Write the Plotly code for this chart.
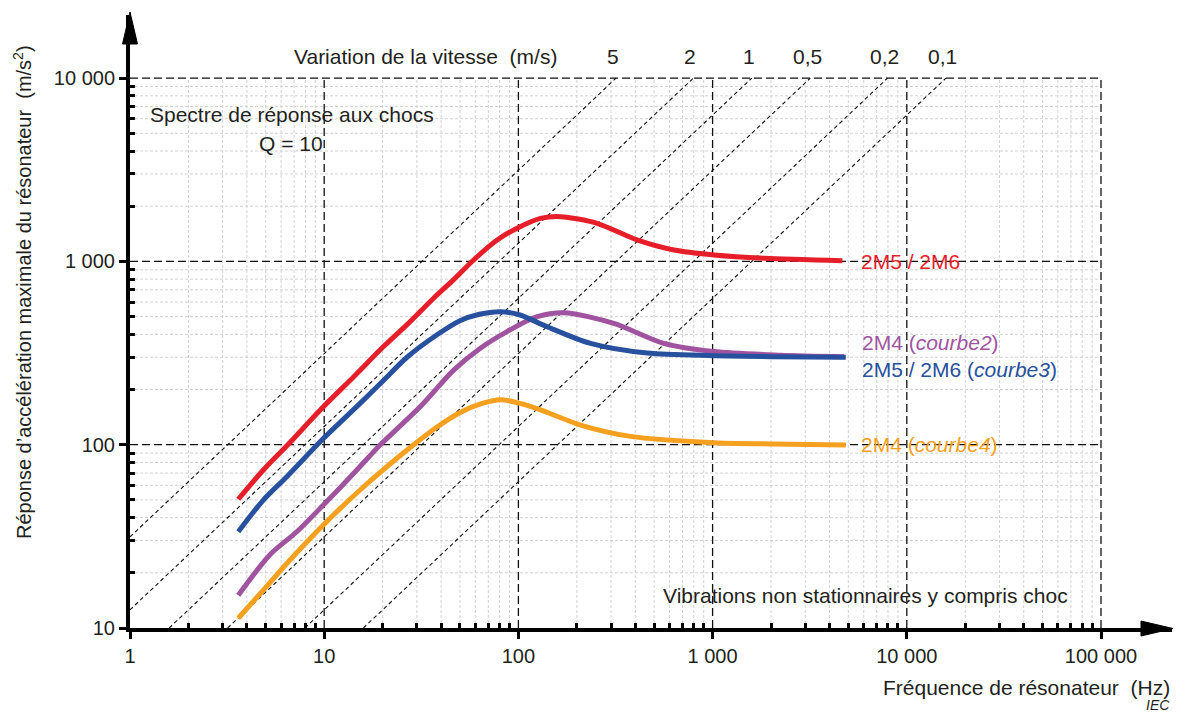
import math
import plotly.graph_objects as go

# ---------------- data ----------------
freq_red = [3.61, 4.86, 6.5, 9.9, 14.2, 20.2, 26.7, 36.6, 46.4, 58.8, 77.7, 102, 130, 165, 254, 408, 632, 1016, 1842, 4660]
acc_red = [50.4, 72.8, 100, 161, 235, 343, 452, 630, 795, 1018, 1309, 1546, 1717, 1754, 1614, 1309, 1153, 1084, 1040, 1009]

freq_blue = [3.61, 4.86, 6.42, 9.9, 15.3, 20.0, 26.7, 38.1, 50.0, 63, 80.8, 102, 140.5, 235, 460, 1016, 2000, 4850]
acc_blue = [33.5, 49.9, 66.9, 108, 168, 222, 300, 398, 475, 515, 532, 510, 440, 357, 316, 306, 302, 300]

freq_purple = [3.61, 5.27, 7.23, 9.9, 14.2, 19.4, 31.2, 46.4, 63.7, 87.4, 125, 171, 310, 561, 1016, 2243, 4750]
acc_purple = [15.1, 25.2, 33.5, 46.9, 69.8, 99.6, 161, 255, 336, 414, 499, 525, 459, 357, 322, 308, 302]

freq_orange = [3.61, 4.86, 6.42, 9.9, 15.3, 26.7, 38.1, 50.2, 65, 80.8, 102, 130, 209, 378, 1016, 2000, 4850]
acc_orange = [11.3, 16.1, 22.5, 36.5, 56.6, 93.5, 125, 150, 168, 176, 168, 155, 128, 111, 102.5, 101, 99.6]

velocities = [5, 2, 1, 0.5, 0.2, 0.1]
velocity_labels = ["5", "2", "1", "0,5", "0,2", "0,1"]

x_major = [1, 10, 100, 1000, 10000, 100000]
x_major_text = ["1", "10", "100", "1 000", "10 000", "100 000"]
y_major = [10, 100, 1000, 10000]
y_major_text = ["10", "100", "1 000", "10 000"]
mantissas = [2, 3, 4, 5, 6, 7, 8, 9]

# ---------------- layout geometry ----------------
W, H = 1180, 713
ML, MR, MT, MB = 130, 8, 15, 85
PW, PH = W - ML - MR, H - MT - MB
XDEC, YDEC = 194.2, 183.3
x_range = [0, PW / XDEC]
y_range = [1, 1 + PH / YDEC]
XMIN, XMAX = x_major[0], x_major[-1]
YMIN, YMAX = y_major[0], y_major[-1]

def px2paper(px, py):
    return (px - ML) / PW, (H - MB - py) / PH

x_minor = [m * d for d in x_major[:-1] for m in mantissas]
y_minor = [m * d for d in y_major[:-1] for m in mantissas]

FONT = "Liberation Sans, Arial, sans-serif"
TXT = "#231f20"

fig = go.Figure()

# minor grid
gx, gy = [], []
for v in x_minor:
    gx += [v, v, None]; gy += [YMIN, YMAX, None]
for v in y_minor:
    gx += [XMIN, XMAX, None]; gy += [v, v, None]
fig.add_trace(go.Scatter(x=gx, y=gy, mode="lines",
                         line=dict(color="#d2d2d2", width=1, dash="3px,2px"),
                         hoverinfo="skip"))

# major grid (dashed black), incl. top & right border
mx, my = [], []
for v in x_major[1:]:
    mx += [v, v, None]; my += [YMIN, YMAX, None]
for v in y_major[1:]:
    mx += [XMIN, XMAX, None]; my += [v, v, None]
fig.add_trace(go.Scatter(x=mx, y=my, mode="lines",
                         line=dict(color="#111111", width=1.3, dash="8px,4px"),
                         hoverinfo="skip"))

# constant velocity lines a = 2*pi*f*v
vx, vy = [], []
tops = []
for v in velocities:
    k = 2 * math.pi * v
    f0 = max(XMIN, YMIN / k)
    f1 = min(XMAX, YMAX / k)
    vx += [f0, f1, None]; vy += [k * f0, k * f1, None]
    tops.append(f1)
fig.add_trace(go.Scatter(x=vx, y=vy, mode="lines",
                         line=dict(color="#111111", width=1.1, dash="4px,3px"),
                         hoverinfo="skip"))

# response curves
curves = [
    (freq_red, acc_red, "#e61e2a"),
    (freq_purple, acc_purple, "#a0549f"),
    (freq_blue, acc_blue, "#27509e"),
    (freq_orange, acc_orange, "#f5a01e"),
]
for fx, fy, col in curves:
    fig.add_trace(go.Scatter(x=fx, y=fy, mode="lines",
                             line=dict(color=col, width=5, shape="spline", smoothing=0.8),
                             hoverinfo="skip"))

ann = []
def add_text(text, x, y, xanchor="left", size=21, color=TXT, **kw):
    ann.append(dict(text=text, x=x, y=y, xref=kw.pop("xref", "x"), yref=kw.pop("yref", "y"),
                    xanchor=xanchor, yanchor=kw.pop("yanchor", "middle"), showarrow=False,
                    font=dict(family=FONT, size=size, color=color), **kw))

# velocity labels
for f1, lab in zip(tops, velocity_labels):
    add_text(lab, math.log10(f1), math.log10(YMAX), xanchor="center", yshift=22, xshift=-3)
add_text("Variation de la vitesse \u00a0(m/s)", 2.208, math.log10(YMAX), xanchor="right", yshift=22)

add_text("Spectre de réponse aux chocs", 0.095, 3.80)
add_text("Q = 10", 0.83, 3.645, xanchor="center")
add_text("Vibrations non stationnaires y compris choc", 4.84, 1.175, xanchor="right")

add_text("2M5 / 2M6", 3.755, 3.0, color="#e61e2a")
add_text("2M4 (<i>courbe2</i>)", 3.76, 2.56, color="#a0549f")
add_text("2M5 / 2M6 (<i>courbe3</i>)", 3.76, 2.408, color="#27509e")
add_text("2M4 (<i>courbe4</i>)", 3.755, 2.0, color="#f5a01e")

# axis titles
xp, yp = px2paper(1172, 687)
add_text("Fréquence de résonateur \u00a0(Hz)", xp, yp, xanchor="right", xref="paper", yref="paper")
xp, yp = px2paper(1172, 705)
add_text("<i>IEC</i>", xp, yp, xanchor="right", xref="paper", yref="paper", size=14)
xp, yp = px2paper(22, 292)
add_text("Réponse d’accélération maximale du résonateur \u00a0(m/s<sup>2</sup>)", xp, yp,
         xanchor="center", xref="paper", yref="paper", textangle=-90, size=20)

# arrowheads
shapes = []
a1 = px2paper(1173, 628.5); a2 = px2paper(1141, 621); a3 = px2paper(1141, 636)
shapes.append(dict(type="path", xref="paper", yref="paper",
                   path=f"M {a1[0]},{a1[1]} L {a2[0]},{a2[1]} L {a3[0]},{a3[1]} Z",
                   fillcolor="black", line=dict(color="black", width=1)))
b1 = px2paper(130, 12); b2 = px2paper(122.5, 44); b3 = px2paper(137.5, 44)
shapes.append(dict(type="path", xref="paper", yref="paper",
                   path=f"M {b1[0]},{b1[1]} L {b2[0]},{b2[1]} L {b3[0]},{b3[1]} Z",
                   fillcolor="black", line=dict(color="black", width=1)))

axis_common = dict(type="log", showgrid=False, zeroline=False, showline=True,
                   linecolor="black", linewidth=4, ticks="outside", ticklen=7,
                   tickwidth=3, tickcolor="black",
                   tickfont=dict(family=FONT, size=20, color=TXT))

fig.update_layout(
    width=W, height=H,
    margin=dict(l=ML, r=MR, t=MT, b=MB, autoexpand=False),
    paper_bgcolor="white", plot_bgcolor="white",
    showlegend=False, hovermode=False,
    xaxis=dict(range=x_range, tickmode="array", tickvals=x_major, ticktext=x_major_text,
               ticklabelstandoff=0,
               minor=dict(tickmode="array", tickvals=x_minor, ticks="inside", ticklen=5,
                          tickwidth=3, tickcolor="black", showgrid=False),
               **axis_common),
    yaxis=dict(range=y_range, tickmode="array", tickvals=y_major, ticktext=y_major_text,
               ticklabelstandoff=0,
               minor=dict(tickmode="array", tickvals=y_minor, ticks="inside", ticklen=5,
                          tickwidth=3, tickcolor="black", showgrid=False),
               **axis_common),
    annotations=ann, shapes=shapes,
)

fig.write_html("out.html", config={"displayModeBar": False},
               post_script="document.body.style.margin='0';document.body.style.overflow='hidden';")
